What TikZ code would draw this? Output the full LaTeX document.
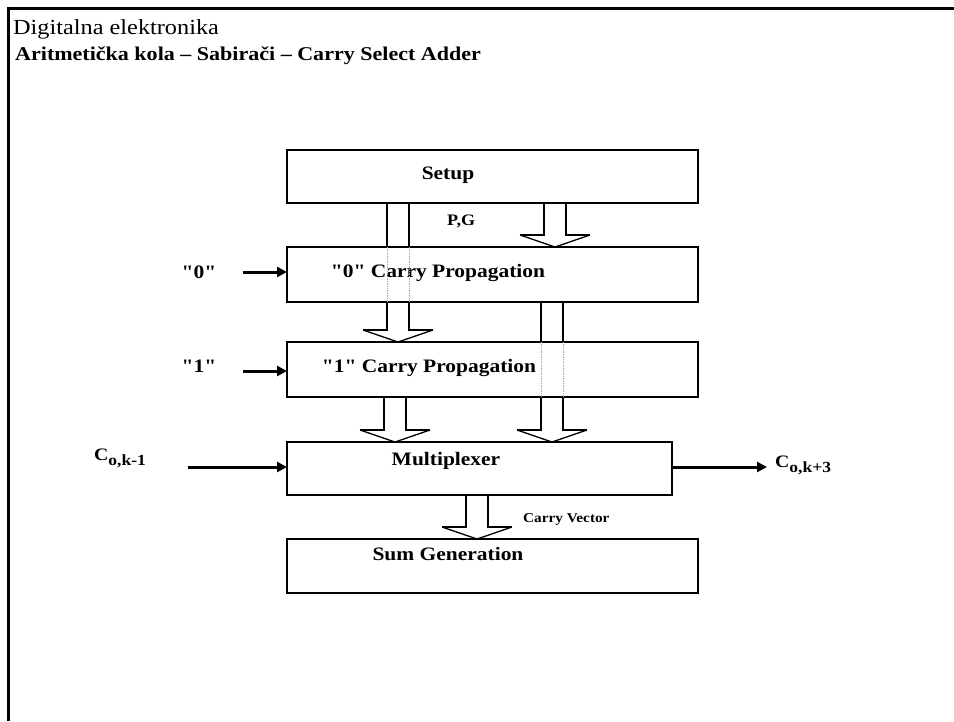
\documentclass[tikz,border=0pt]{standalone}
\usepackage{fontspec}
\setmainfont{Liberation Serif}[FakeStretch=1.13, Ligatures=TeXOff]
\usetikzlibrary{arrows.meta, calc, backgrounds}

\tikzset{
  blk/.style={draw, line width=2.8pt, fill=white, anchor=north west, inner sep=0pt, outer sep=0pt},
  boxtext/.style={font=\fontsize{19}{19}\selectfont\bfseries, anchor=base, inner sep=0pt},
  sidelbl/.style={font=\fontsize{19}{19}\selectfont\bfseries, anchor=base, inner sep=0pt},
  carrylbl/.style={font=\fontsize{17.5}{17.5}\selectfont\bfseries, anchor=base west, inner sep=0pt},
  sig/.style={line width=3pt, -{Triangle[length=10pt,width=10pt]}},
  shaftline/.style={line width=2.8pt},
  headline/.style={line width=1.3pt},
  ghost/.style={gray!70, line width=0.7pt, densely dotted},
}

% wide arrow between two blocks, #1 = centre x
\newcommand{\fatarrow}[3]{%
  \draw[shaftline] let \p1=(#2.south), \p2=(#3.north) in
    (#1pt-11pt,\y1) -- (#1pt-11pt,\y2+12pt) -- (#1pt-35pt,\y2+12pt)
    (#1pt+11pt,\y1) -- (#1pt+11pt,\y2+12pt) -- (#1pt+35pt,\y2+12pt);
  \draw[headline] let \p2=(#3.north) in
    (#1pt-35pt,\y2+12pt) -- (#1pt,\y2) -- (#1pt+35pt,\y2+12pt);}
% shaft seen through a block
\newcommand{\ghostshaft}[2]{%
  \draw[ghost] let \p1=(#2.north), \p2=(#2.south) in
    (#1pt-11pt,\y1) -- (#1pt-11pt,\y2) (#1pt+11pt,\y1) -- (#1pt+11pt,\y2);}
\newcommand{\carrysub}[1]{\raisebox{-5pt}{\fontsize{15.5}{15.5}\selectfont #1}}

\begin{document}
\begin{tikzpicture}[x=1pt, y=-1pt]
  \useasboundingbox (0,0) rectangle (954,721);

  % page frame
  \draw[line width=3pt] (954,8) -- (8,8) -- (8,721);

  % heading
  \node[anchor=base west, inner sep=0pt, font=\fontsize{21.5}{21.5}\selectfont] (course) at (13,34) {Digitalna elektronika};
  \node[anchor=base west, inner sep=0pt, font=\fontsize{19.5}{19.5}\selectfont\bfseries] (title) at (15,60) {Aritmetička kola – Sabirači – Carry Select Adder};

  % blocks
  \node[blk, minimum width=411pt, minimum height=53pt] (setup) at (287,150) {};
  \node[blk, minimum width=411pt, minimum height=55pt] (zero) at (287,247) {};
  \node[blk, minimum width=411pt, minimum height=55pt] (one) at (287,342) {};
  \node[blk, minimum width=385pt, minimum height=53pt] (mux) at (287,442) {};
  \node[blk, minimum width=411pt, minimum height=54pt] (sum) at (287,539) {};

  \node[boxtext] (setuptxt) at (448,179) {Setup};
  \node[boxtext] (zerotxt) at (438,277) {"0" Carry Propagation};
  \node[boxtext] (onetxt) at (429,372) {"1" Carry Propagation};
  \node[boxtext] (muxtxt) at (446,465) {Multiplexer};
  \node[boxtext] (sumtxt) at (448,560) {Sum Generation};

  % wide arrows
  \begin{scope}[on background layer]
    \fatarrow{398}{setup}{one}
    \fatarrow{555}{setup}{zero}
    \fatarrow{552}{zero}{mux}
    \fatarrow{395}{one}{mux}
    \fatarrow{477}{mux}{sum}
  \end{scope}
  \ghostshaft{398}{zero}
  \ghostshaft{552}{one}

  \node[anchor=base west, inner sep=0pt, font=\fontsize{16}{16}\selectfont\bfseries] (pg) at (447,225) {P,G};
  \node[anchor=base west, inner sep=0pt, font=\fontsize{13.5}{13.5}\selectfont\bfseries] (cvec) at (523,522) {Carry Vector};

  % inputs and output
  \node[sidelbl] (zerolbl) at (199,278) {"0"};
  \node[sidelbl] (onelbl) at (199,372) {"1"};
  \node[carrylbl] (cin) at (94,460) {C\carrysub{o,k-1}};
  \node[carrylbl] (cout) at (775,467) {C\carrysub{o,k+3}};

  \coordinate (zin) at (243,272);
  \coordinate (oin) at (243,371);
  \coordinate (cinend) at (188,467);
  \coordinate (coutend) at (767,467);
  \draw[sig] (zin) -- (zin -| zero.west);
  \draw[sig] (oin) -- (oin -| one.west);
  \draw[sig] (cinend) -- (cinend -| mux.west);
  \draw[sig] (coutend -| mux.east) -- (coutend);
\end{tikzpicture}
\end{document}
